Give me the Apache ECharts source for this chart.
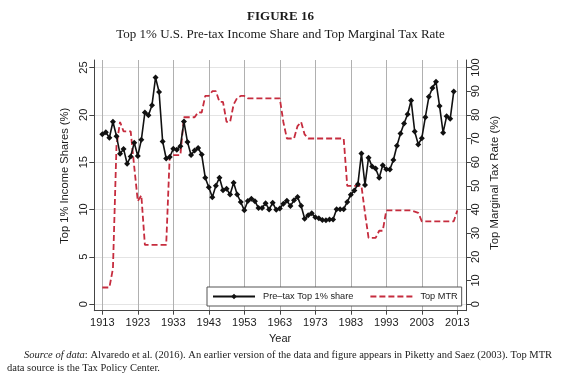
<!DOCTYPE html>
<html>
<head>
<meta charset="utf-8">
<script src="https://cdn.jsdelivr.net/npm/echarts@6/dist/echarts.min.js"></script>
<style>
html,body{margin:0;padding:0;background:#fff;}
#chart{width:561px;height:389px;}
</style>
</head>
<body>
<div id="chart"></div>
<script>
// ---- data ----
const shareYears = [];
for (let y = 1913; y <= 2012; y++) shareYears.push(y);
const topShare = [
  17.96, 18.16, 17.58, 19.27, 17.75, 15.88, 16.40, 14.83, 15.61, 17.05,
  15.66, 17.36, 20.25, 19.96, 21.02, 23.94, 22.42, 17.19, 15.39, 15.55,
  16.42, 16.32, 16.68, 19.29, 17.13, 15.75, 16.24, 16.50, 15.80, 13.36,
  12.34, 11.30, 12.52, 13.35, 12.04, 12.18, 11.58, 12.82, 11.58, 10.79,
  9.91, 10.89, 11.13, 10.87, 10.15, 10.15, 10.65, 10.01, 10.70, 9.96,
  10.10, 10.60, 10.93, 10.36, 10.98, 11.31, 10.40, 9.03, 9.38, 9.59,
  9.18, 9.08, 8.89, 8.85, 8.95, 8.95, 10.02, 10.02, 10.03, 10.80,
  11.56, 12.00, 12.67, 15.92, 12.60, 15.48, 14.53, 14.33, 13.36, 14.67,
  14.24, 14.23, 15.23, 16.74, 18.02, 19.09, 20.06, 21.52, 18.25, 16.88,
  17.53, 19.75, 21.92, 22.84, 23.50, 20.95, 18.12, 19.86, 19.58, 22.46
];
const mtrYears = [];
for (let y = 1913; y <= 2013; y++) mtrYears.push(y);
const topMTR = [
  7, 7, 7, 15, 67, 77, 73, 73, 73, 58,
  43.5, 46, 25, 25, 25, 25, 25, 25, 25, 63,
  63, 63, 63, 79, 79, 79, 79, 81.1, 81, 88,
  88, 90, 90, 85.5, 85.5, 77, 77, 84.4, 87.2, 88,
  88, 87, 87, 87, 87, 87, 87, 87, 87, 87,
  87, 77, 70, 70, 70, 75.25, 77, 71.75, 70, 70,
  70, 70, 70, 70, 70, 70, 70, 70, 70, 50,
  50, 50, 50, 50, 38.5, 28, 28, 28, 31, 31,
  39.6, 39.6, 39.6, 39.6, 39.6, 39.6, 39.6, 39.6, 39.1, 38.6,
  35, 35, 35, 35, 35, 35, 35, 35, 35, 35,
  39.6
];
const xTicks = [1913, 1923, 1933, 1943, 1953, 1963, 1973, 1983, 1993, 2003, 2013];
const leftTicks = [0, 5, 10, 15, 20, 25];
const rightTicks = [0, 10, 20, 30, 40, 50, 60, 70, 80, 90, 100];

const figLabel = 'FIGURE 16';
const figTitle = 'Top 1% U.S. Pre-tax Income Share and Top Marginal Tax Rate';
const shareName = 'Pre–tax Top 1% share';
const mtrName = 'Top MTR';
const leftTitle = 'Top 1% Income Shares (%)';
const rightTitle = 'Top Marginal Tax Rate (%)';
const xTitle = 'Year';
const note1a = 'Source of data';
const note1b = ': Alvaredo et al. (2016). An earlier version of the data and figure appears in Piketty and Saez (2003). Top MTR';
const note2 = 'data source is the Tax Policy Center.';

const sans = 'Liberation Sans, Arial, sans-serif';
const serif = 'Liberation Serif, Times New Roman, serif';
const red = '#c62c3e';

const chart = echarts.init(document.getElementById('chart'), null, {renderer: 'canvas'});
chart.setOption({
  animation: false,
  backgroundColor: '#fff',
  title: [
    {text: figLabel, left: 'center', top: 10, padding: 0,
     textStyle: {fontFamily: serif, fontWeight: 'bold', fontSize: 13, color: '#1a1a1a'}},
    {text: figTitle, left: 'center', top: 28, padding: 0,
     textStyle: {fontFamily: serif, fontWeight: 'normal', fontSize: 13, color: '#1a1a1a'}}
  ],
  graphic: [
    {type: 'text', left: 24, top: 350,
     style: {text: '{i|' + note1a + '}' + note1b, font: '10.5px ' + serif, fill: '#1a1a1a',
             rich: {i: {fontStyle: 'italic', fontFamily: serif, fontSize: 10.5, fill: '#1a1a1a'}}}},
    {type: 'text', left: 7, top: 363,
     style: {text: note2, font: '10.5px ' + serif, fill: '#1a1a1a'}}
  ],
  grid: {left: 94.3, right: 95, top: 60, bottom: 78.3, containLabel: false},
  legend: {
    left: 207, top: 287, orient: 'horizontal',
    padding: [5, 4, 5, 5], itemGap: 16, itemWidth: 42, itemHeight: 7,
    borderColor: '#555', borderWidth: 1, backgroundColor: '#fff', borderRadius: 0,
    textStyle: {fontFamily: sans, fontSize: 9.2, color: '#1a1a1a', padding: [0, 0, 0, 3]},
    data: [{name: shareName}, {name: mtrName, itemStyle: {opacity: 0}}]
  },
  xAxis: {
    type: 'value', min: 1910.75, max: 2015.45,
    name: xTitle, nameLocation: 'middle', nameGap: 16,
    nameTextStyle: {fontFamily: sans, fontSize: 11, color: '#1a1a1a'},
    axisLine: {show: true, onZero: false, lineStyle: {color: '#444', width: 1}},
    axisTick: {show: true, customValues: xTicks, length: 4, lineStyle: {color: '#444'}},
    axisLabel: {customValues: xTicks, margin: 6.5, fontFamily: sans, fontSize: 11, color: '#1a1a1a',
                formatter: v => String(v)},
    splitLine: {show: true, lineStyle: {color: '#b0b0b0', width: 1}}
  },
  yAxis: [
    {
      type: 'value', position: 'left', min: -0.7, max: 25.8,
      name: leftTitle, nameLocation: 'middle', nameGap: 16,
      nameTextStyle: {fontFamily: sans, fontSize: 11.2, color: '#1a1a1a', padding: [0, 0, 0, 19]},
      axisLine: {show: true, onZero: false, lineStyle: {color: '#444', width: 1}},
      axisTick: {show: true, customValues: leftTicks, length: 5, lineStyle: {color: '#444'}},
      axisLabel: {customValues: leftTicks, rotate: 90, margin: 5, fontFamily: sans, fontSize: 11, color: '#1a1a1a',
                  formatter: v => String(v)},
      splitLine: {show: true, lineStyle: {color: '#e4e4e4', width: 1}}
    },
    {
      type: 'value', position: 'right', min: -2.8, max: 103.2,
      name: rightTitle, nameLocation: 'middle', nameGap: 12,
      nameTextStyle: {fontFamily: sans, fontSize: 11.4, color: '#1a1a1a', padding: [0, 0, 0, 5]},
      axisLine: {show: true, onZero: false, lineStyle: {color: '#444', width: 1}},
      axisTick: {show: true, customValues: rightTicks, length: 5, lineStyle: {color: '#444'}},
      axisLabel: {customValues: rightTicks, rotate: 90, margin: 4, fontFamily: sans, fontSize: 11, color: '#1a1a1a',
                  formatter: v => String(v)},
      splitLine: {show: false}
    }
  ],
  series: [
    {
      name: shareName, type: 'line', yAxisIndex: 0,
      data: shareYears.map((y, i) => [y, topShare[i]]),
      symbol: 'diamond', symbolSize: 6, showSymbol: true, showAllSymbol: true,
      lineStyle: {color: '#111', width: 1.6},
      itemStyle: {color: '#111'},
      z: 3
    },
    {
      name: mtrName, type: 'line', yAxisIndex: 1,
      data: mtrYears.map((y, i) => [y, topMTR[i]]),
      symbol: 'none',
      lineStyle: {color: red, width: 1.8, type: [6, 3]},
      itemStyle: {color: red},
      z: 2
    }
  ]
});
</script>
</body>
</html>
